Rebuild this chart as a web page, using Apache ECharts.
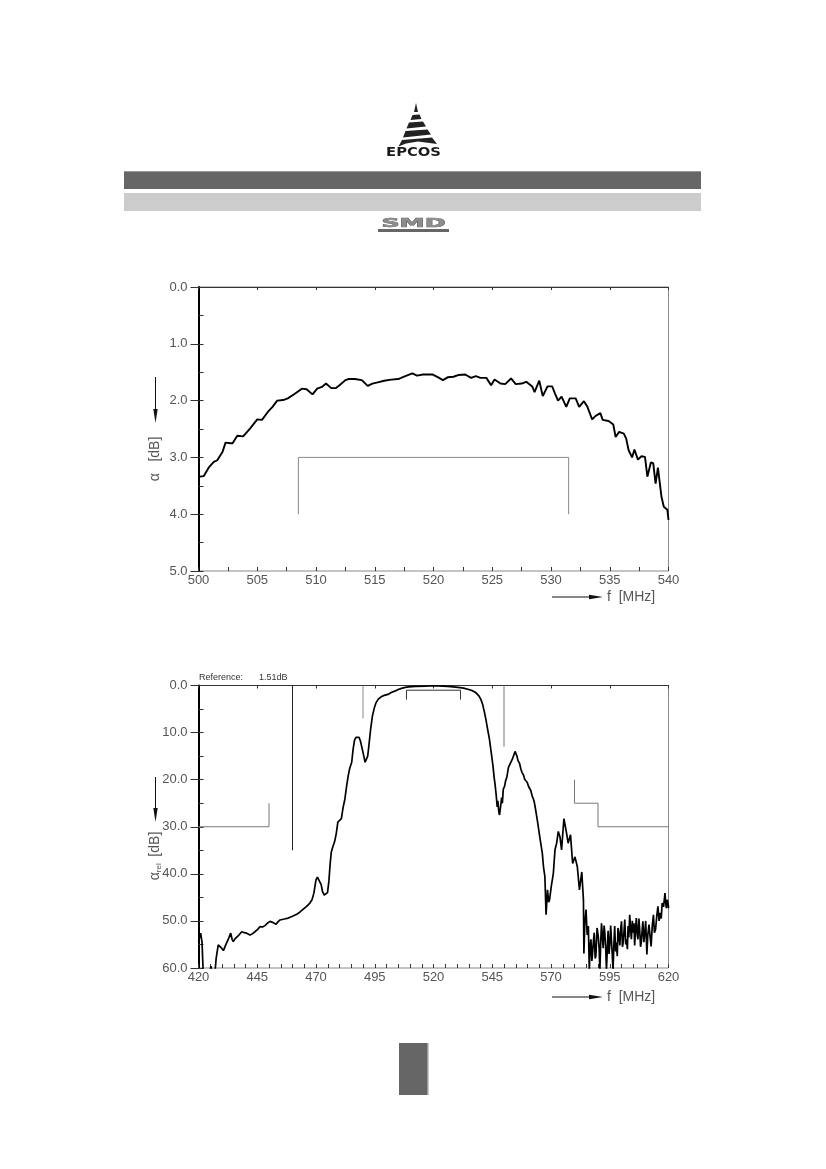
<!DOCTYPE html>
<html>
<head>
<meta charset="utf-8">
<script src="https://cdn.jsdelivr.net/npm/echarts@6/dist/echarts.min.js"></script>
<style>
html,body{margin:0;padding:0;background:#fff;}
#c{width:826px;height:1169px;}
</style>
</head>
<body>
<div id="c"></div>
<script>
// ---------- Chart 1: passband detail ----------
const c1Freq = [500,500.44,500.9,501.3,501.6,502.05,502.3,502.7,502.9,503.3,503.8,504.4,505,505.4,505.9,506.3,506.7,507.2,507.6,508.2,508.8,509.2,509.7,510.1,510.5,510.85,511.3,511.7,512,512.5,512.8,513.3,513.9,514.4,514.8,515.25,515.8,516.4,517,517.6,518.2,518.6,519.1,519.5,519.9,520.4,520.8,521.2,521.7,522.1,522.7,523.2,523.6,524,524.5,524.9,525.2,525.7,526.1,526.6,527,527.5,527.9,528.4,528.6,529,529.3,529.7,530.1,530.35,530.6,530.9,531.3,531.6,532.1,532.4,532.8,533.1,533.5,533.8,534.2,534.4,534.9,535.3,535.5,535.8,536.2,536.4,536.6,536.9,537.1,537.4,537.7,538,538.2,538.5,538.7,538.9,539.1,539.4,539.6,539.9,540];
const c1Att  = [3.34,3.33,3.17,3.08,3.05,2.9,2.74,2.75,2.75,2.62,2.63,2.49,2.33,2.34,2.2,2.11,2.0,1.99,1.96,1.88,1.79,1.8,1.89,1.79,1.76,1.7,1.78,1.78,1.73,1.64,1.62,1.62,1.64,1.74,1.7,1.68,1.65,1.63,1.62,1.57,1.52,1.56,1.54,1.54,1.54,1.59,1.64,1.59,1.58,1.55,1.54,1.6,1.57,1.6,1.6,1.73,1.63,1.7,1.71,1.61,1.71,1.7,1.67,1.75,1.85,1.65,1.92,1.75,1.75,1.88,2.0,1.93,2.11,1.96,1.96,2.11,2.01,2.11,2.33,2.27,2.22,2.34,2.36,2.42,2.64,2.55,2.58,2.67,2.87,3.0,2.86,3.04,2.98,2.99,3.34,3.09,3.1,3.46,3.18,3.69,3.87,3.92,4.1];
const c1MaskF = [508.5,508.5,531.5,531.5];
const c1MaskA = [4,3,3,4];
const c1XTicks = [500,505,510,515,520,525,530,535,540];
const c1YTicks = [0,1,2,3,4,5];

// ---------- Chart 2: wideband response ----------
const c2Freq = [420,420.9,421.5,422,424.5,425.3,425.8,426.3,427,427.5,428.4,429.5,430.6,431.5,432.2,433,433.7,434.3,434.8,435.5,436.3,437.2,438.4,439.5,440.5,441.9,443,444,445.2,446.2,447.2,448.3,449.3,450.4,451.5,453,453.8,454.7,456.5,458.2,460,461.8,463.2,464.6,466,467.4,468.3,469.1,469.6,470,470.6,471.4,472.2,472.8,473.5,474.3,474.9,475.5,476,476.5,477.2,477.9,478.6,479.3,480,480.8,481.5,482.3,483,483.7,484.4,485.2,485.8,486.4,487,487.7,488.3,488.9,489.6,490.3,490.9,491.4,492,492.5,493.2,494,494.8,495.5,496.5,497.7,499,500.6,502,503.5,505,506.4,508,509.4,512.3,516.7,519.6,522,524,526,528.4,530.5,532.8,535,536.5,538,539.4,540.2,540.9,541.6,542.3,543,543.8,544.5,545.3,545.8,546.2,546.7,547.1,547.4,547.8,548.1,548.6,549,549.3,549.7,550.2,550.7,551.2,551.9,552.5,553,553.6,554.2,554.7,555.1,555.5,556,556.6,557.2,557.7,558.3,558.8,559.4,559.9,560.5,561,561.4,562,562.5,562.9,563.5,564.3,565.3,566.3,566.8,567.4,567.9,568.5,569,569.4,570.1,571,571.7,572.4,573.1,573.8,574.5,575.5,576.6,577.3,578.3,579.2,580.2,581.2,582.1,583.1,583.8,
  584.0,584.4,584.9,585.4,585.9,586.3,586.7,587.0,587.4,587.7,588.1,588.4,588.8,589.1,589.6,590.1,590.5,590.8,591.2,591.5,591.9,592.2,592.6,592.9,593.3,593.6,594.0,594.3,594.7,595.0,595.4,595.7,596.1,596.4,596.8,597.1,597.5,597.8,598.2,598.5,598.9,599.3,599.6,600.0,600.4,600.7,601.1,601.4,601.8,602.1,602.5,602.8,603.1,603.5,603.9,604.2,604.6,604.9,605.3,605.6,606.0,606.3,606.7,607.0,607.4,607.7,608.1,608.4,608.8,609.1,609.5,609.8,610.3,610.8,611.2,611.7,612.2,612.6,613.1,613.6,614.0,614.5,615.0,615.5,616.0,616.5,616.9,617.3,617.9,618.5,618.8,619.1,619.5,619.9,620.0];
const c2Att  = [54.4,52.6,54.5,61,62,59.6,59.4,62,61,58,55.1,55.6,56.3,55.2,54.9,53.5,52.6,53.9,54.4,53.8,53.9,53.0,52.3,52.5,52.6,53.0,52.7,52.3,51.8,51.2,51.3,51.0,50.5,50.1,50.3,50.7,50.2,49.8,49.6,49.4,49.0,48.6,48.1,47.5,46.9,46.2,45.5,44.1,42.5,41.3,40.7,41.0,42.3,43.8,44.5,44.9,44.0,41.5,38.0,35.4,34.2,33.2,31.5,29.0,28.6,28.3,26.0,24.1,21.5,19.2,17.5,16.3,13.5,11.6,11.0,10.7,11.0,11.8,13.3,14.9,16.3,16.7,15.0,12.8,9.5,6.5,4.8,3.7,2.9,2.4,2.1,1.9,1.5,1.2,0.85,0.6,0.4,0.3,0.2,0.12,0.05,0.08,0.14,0.2,0.28,0.4,0.56,0.85,1.1,1.5,2.25,3.0,4.0,5.5,7.2,9.2,11.4,14.0,17.0,19.5,21.0,23.4,25.8,24.5,26.9,27.5,25.5,23.8,25.0,22.0,21.5,20.2,19.5,17.4,17.8,16.2,15.6,15.2,14.0,13.9,15.0,16.0,16.5,17.8,18.5,19.0,19.9,20.2,20.6,21.5,21.9,22.3,23.5,24.1,24.8,26.5,29.0,32.4,35.6,38.5,40.6,48.7,43.4,46.0,45.5,42.7,39.9,34.9,33.5,31.0,32.1,34.9,28.3,31.3,33.5,31.7,37.8,36.4,38.5,43.4,39.6,45.5,
  56.9,50.5,47.6,53.0,51.1,60.5,55.0,53.9,58.5,56.7,54.0,52.5,58.0,57.4,51.5,53.2,56.0,60.5,54.0,50.5,53.5,55.8,51.0,52.5,56.0,60.5,55.5,52.1,57.0,55.2,51.0,53.9,57.5,60.5,54.5,51.1,56.5,54.6,57.5,51.5,53.0,55.2,52.0,50.1,55.5,54.6,52.0,49.7,55.0,53.9,56.0,51.1,53.5,48.7,52.0,53.9,50.0,52.5,50.5,55.2,51.5,49.4,53.0,53.9,49.5,51.5,55.5,54.6,52.0,50.1,54.5,53.2,50.0,57.1,53.0,50.8,53.5,55.4,51.0,48.7,52.5,51.8,49.0,46.9,50.0,48.3,49.5,46.2,47.0,44.1,46.0,47.3,45.5,46.6,47.3];
const c2MaskLeftF = [420,450,450];
const c2MaskLeftA = [30,30,25];
const c2Mask460F = [460,460];
const c2Mask460A = [0,35];
const c2Mask490F = [490,490];
const c2Mask490A = [0,7];
const c2PassF = [508.5,508.5,531.5,531.5];
const c2PassA = [3,1,1,3];
const c2Mask550F = [550,550];
const c2Mask550A = [0,13];
const c2MaskRightF = [580,580,590,590,620];
const c2MaskRightA = [20,25,25,30,30];
const c2XTicks = [420,445,470,495,520,545,570,595,620];
const c2YTicks = [0,10,20,30,40,50,60];
const c2Reference = ['Reference:', '1.51dB'];

// ---------- helpers ----------
const zip = (a, b) => a.map((v, i) => [v, b[i]]);
const FONT = 'Liberation Sans';
const LBL = {color:'#555', fontSize:13, fontFamily:FONT};
const G1 = {left:198.5, top:287, width:470, height:284};
const G2 = {left:198.5, top:685.5, width:470, height:282.5};

function mainX(grid, min, max, ticks) {
  return {type:'value', gridIndex:grid, min, max, position:'bottom',
    axisLine:{show:true, lineStyle:{color:'#333', width:1.2}},
    axisTick:{show:true, inside:false, length:3, customValues:ticks, lineStyle:{color:'#333', width:1}},
    axisLabel:Object.assign({show:true, margin:3, customValues:ticks, formatter:v=>String(v)}, LBL),
    splitLine:{show:false}};
}
// minor ticks: a second x axis placed on top and shifted down onto the bottom edge
function minorX(grid, min, max, step, h) {
  return {type:'value', gridIndex:grid, min, max, interval:step, position:'top', offset:-h,
    axisLine:{show:false}, axisLabel:{show:false}, splitLine:{show:false},
    axisTick:{show:true, inside:false, length:4, lineStyle:{color:'#333', width:1}}};
}
function mainY(grid, min, max, ticks) {
  return {type:'value', gridIndex:grid, min, max, inverse:true, position:'left',
    axisLine:{show:true, lineStyle:{color:'#000', width:2}},
    axisTick:{show:true, inside:false, length:8, customValues:ticks, lineStyle:{color:'#333', width:1}},
    axisLabel:Object.assign({show:true, margin:11, customValues:ticks, formatter:v=>v.toFixed(1)}, LBL),
    splitLine:{show:false}};
}
function minorY(grid, min, max, step) {
  return {type:'value', gridIndex:grid, min, max, interval:step, inverse:true, position:'left',
    axisLine:{show:false}, axisLabel:{show:false}, splitLine:{show:false},
    axisTick:{show:true, inside:true, length:5, lineStyle:{color:'#333', width:1}}};
}
function curve(xi, f, a, w) {
  return {type:'line', xAxisIndex:xi, yAxisIndex:xi, data:zip(f, a), showSymbol:false, symbol:'none',
    clip:true, lineStyle:{color:'#000', width:w}, z:5, animation:false};
}
function mask(xi, f, a, color) {
  return {type:'line', xAxisIndex:xi, yAxisIndex:xi, data:zip(f, a), showSymbol:false, symbol:'none',
    clip:true, lineStyle:{color:color || '#888', width:1}, z:3, animation:false};
}
function arrowDown(x, y1, y2) {
  return [
    {type:'line', shape:{x1:x, y1:y1, x2:x, y2:y2-10}, style:{stroke:'#111', lineWidth:1}},
    {type:'polygon', shape:{points:[[x-2.2,y2-14],[x+2.2,y2-14],[x,y2]]}, style:{fill:'#111'}}
  ];
}
function arrowRight(x1, x2, y) {
  return [
    {type:'line', shape:{x1:x1, y1:y, x2:x2-10, y2:y}, style:{stroke:'#111', lineWidth:1}},
    {type:'polygon', shape:{points:[[x2-14,y-2.2],[x2-14,y+2.2],[x2,y]]}, style:{fill:'#111'}}
  ];
}
function txt(x, y, s, extra) {
  return {type:'text', x:x, y:y, style:Object.assign({text:s, fill:'#555', fontSize:14, fontFamily:FONT,
    textAlign:'left', textVerticalAlign:'middle'}, extra || {})};
}

const graphics = [
  // EPCOS logo
  {type:'polygon', shape:{points:[[416,103],[414,112],[418,112]]}, style:{fill:'#222'}},
  {type:'polygon', shape:{points:[[412.5,115],[419.5,114.5],[421.5,119],[410.5,120]]}, style:{fill:'#222'}},
  {type:'polygon', shape:{points:[[409,122.5],[423,121.5],[426,126.5],[406.5,128.5]]}, style:{fill:'#222'}},
  {type:'polygon', shape:{points:[[405.5,131],[427.5,129.5],[431,134.5],[403,137.5]]}, style:{fill:'#222'}},
  {type:'polygon', shape:{points:[[402,140],[432,137.5],[437,144],[418,141.5],[406,143.5],[398.5,146.5]]}, style:{fill:'#222'}},
  {type:'text', x:413.5, y:153, scaleX:1.18, style:{text:'EPCOS', fill:'#1a1a1a', fontSize:12.5, fontWeight:'bold',
    fontFamily:'DejaVu Sans', textAlign:'center', textVerticalAlign:'middle'}},
  // header bars
  {type:'rect', shape:{x:124, y:171, width:577, height:18}, style:{fill:'#666'}},
  {type:'rect', shape:{x:124, y:171, width:577, height:1}, style:{fill:'#999'}},
  {type:'rect', shape:{x:124, y:193, width:577, height:18}, style:{fill:'#ccc'}},
  // SMD mark
  {type:'text', x:413.5, y:224, scaleX:2.1, style:{text:'SMD', fill:'#8c8c8c', stroke:'#555', lineWidth:0.6,
    fontSize:12, fontWeight:'bold', fontFamily:'DejaVu Sans', textAlign:'center', textVerticalAlign:'middle'}},
  {type:'rect', shape:{x:378, y:229, width:71, height:3}, style:{fill:'#666'}},
  // chart 1 axis names
  ...arrowDown(155.5, 377, 423),
  {type:'text', x:155.5, y:459, rotation:Math.PI/2, style:{text:'α   [dB]', fill:'#555', fontSize:14, fontFamily:FONT,
    textAlign:'center', textVerticalAlign:'middle'}},
  ...arrowRight(552, 603, 597),
  txt(607, 597, 'f  [MHz]'),
  // chart 2 texts
  txt(199, 678, c2Reference[0], {fontSize:9, fill:'#333'}),
  txt(259, 678, c2Reference[1], {fontSize:9, fill:'#333'}),
  ...arrowDown(155.5, 777, 822),
  {type:'text', x:155.5, y:856, rotation:Math.PI/2, style:{text:'{a|α}{s|rel}  {a|[dB]}', fill:'#555', fontFamily:FONT,
    textAlign:'center', textVerticalAlign:'middle',
    rich:{a:{fontSize:14, fill:'#555', fontFamily:FONT}, s:{fontSize:8, fill:'#555', fontFamily:FONT, padding:[7,0,0,0]}}}},
  ...arrowRight(552, 603, 997),
  txt(607, 997, 'f  [MHz]'),
  // page box
  {type:'rect', shape:{x:399, y:1043, width:29, height:52}, style:{fill:'#666'}},
  {type:'rect', shape:{x:427, y:1043, width:1.5, height:52}, style:{fill:'#999'}}
];

const option = {
  animation:false,
  backgroundColor:'#fff',
  grid:[
    Object.assign({show:true, borderColor:'#888', borderWidth:1, backgroundColor:'transparent'}, G1),
    Object.assign({show:true, borderColor:'#888', borderWidth:1, backgroundColor:'transparent'}, G2)
  ],
  xAxis:[
    mainX(0, 500, 540, c1XTicks),
    minorX(0, 500, 540, 2.5, G1.height),
    mainX(1, 420, 620, c2XTicks),
    minorX(1, 420, 620, 5, G2.height)
  ],
  yAxis:[
    mainY(0, 0, 5, c1YTicks),
    minorY(0, 0, 5, 0.5),
    mainY(1, 0, 60, c2YTicks),
    minorY(1, 0, 60, 5)
  ],
  series:[
    curve(0, c1Freq, c1Att, 1.9),
    mask(0, c1MaskF, c1MaskA, '#888'),
    curve(2, c2Freq, c2Att, 1.7),
    mask(2, c2MaskLeftF, c2MaskLeftA, '#777'),
    mask(2, c2Mask460F, c2Mask460A, '#222'),
    mask(2, c2Mask490F, c2Mask490A, '#888'),
    mask(2, c2PassF, c2PassA, '#333'),
    mask(2, c2Mask550F, c2Mask550A, '#777'),
    mask(2, c2MaskRightF, c2MaskRightA, '#777')
  ],
  graphic:graphics
};

const chart = echarts.init(document.getElementById('c'), null, {renderer:'canvas', width:826, height:1169});
chart.setOption(option);
</script>
</body>
</html>
